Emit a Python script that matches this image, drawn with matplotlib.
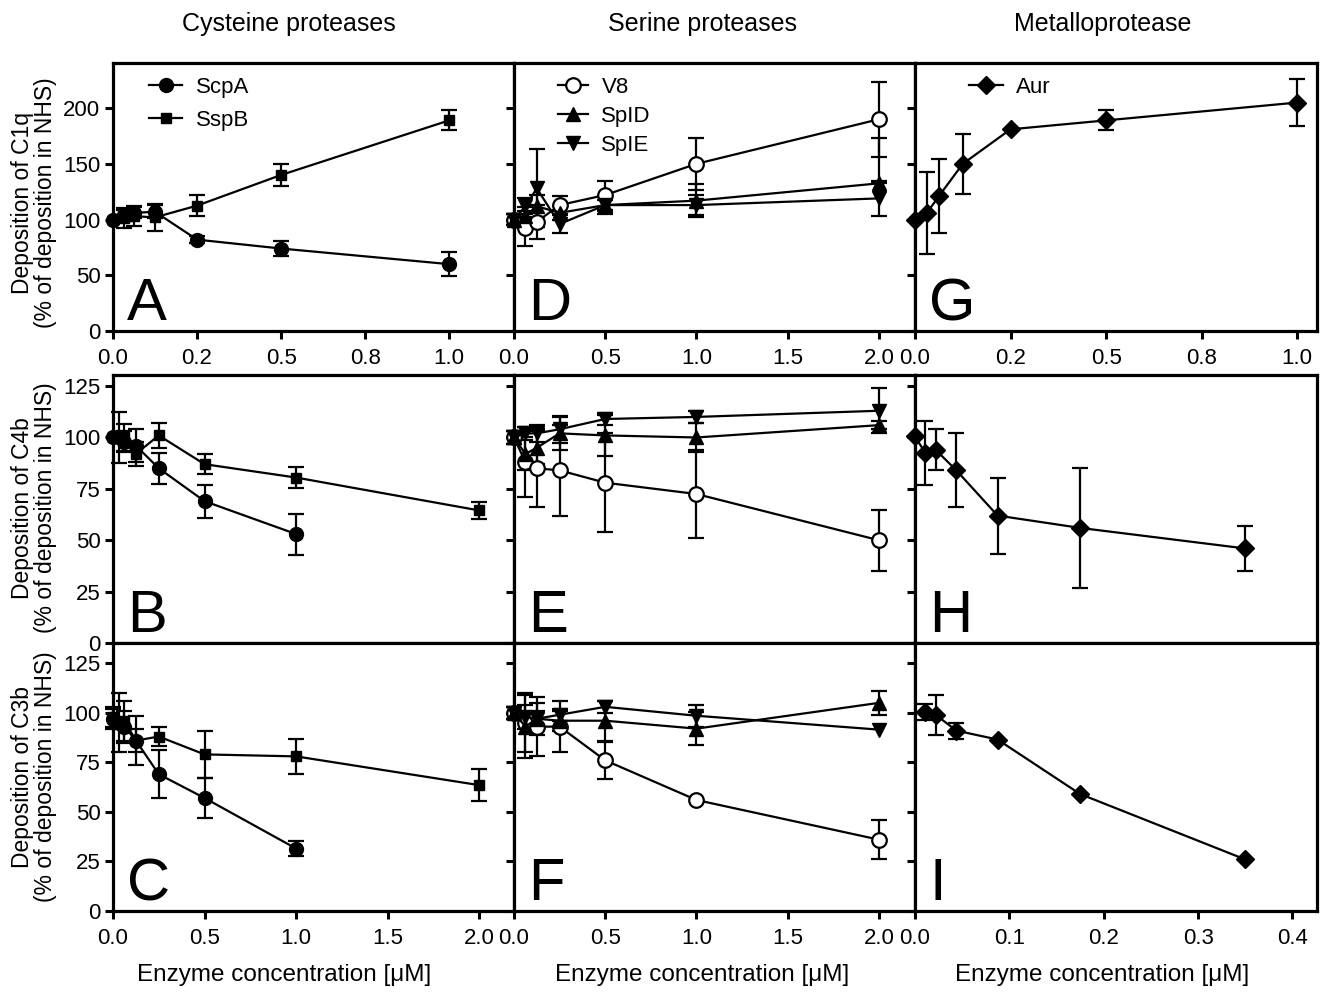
import numpy as np
import matplotlib
matplotlib.use("Agg")
import matplotlib.pyplot as plt

plt.rcParams['font.family'] = ['Liberation Sans', 'DejaVu Sans']

nan = np.nan

# ---------------- data ----------------
# Column titles / labels
col_titles = ["Cysteine proteases", "Serine proteases", "Metalloprotease"]
row_labels = ["Deposition of C1q\n(% of deposition in NHS)",
              "Deposition of C4b\n(% of deposition in NHS)",
              "Deposition of C3b\n(% of deposition in NHS)"]
xlabel = "Enzyme concentration [\u03bcM]"
panel_letters = [["A", "D", "G"], ["B", "E", "H"], ["C", "F", "I"]]

# Cysteine proteases
cys_x_A = [0, 0.03125, 0.0625, 0.125, 0.25, 0.5, 1.0]
A_scpa = [100, 104, 106, 107, 82, 74, 60]
A_scpa_err = [nan, 5, 5, 6, 3, 6.5, 10.5]
A_sspb = [100, 101, 103, 102, 112.5, 140, 189]
A_sspb_err = [nan, 9, 9, 12, 9.5, 10, 9]

scpa_x_BC = [0, 0.03125, 0.0625, 0.125, 0.25, 0.5, 1.0]
sspb_x_BC = [0, 0.0625, 0.125, 0.25, 0.5, 1.0, 2.0]
B_scpa = [100, 100, 98, 96, 85, 69, 53]
B_scpa_err = [nan, 12.5, 5, 8, 7.5, 8, 10]
B_sspb = [100, 100, 92, 101, 87, 80.5, 64.5]
B_sspb_err = [nan, 6.6, 6, 6, 5, 5, 4]
C_scpa = [97, 95, 93, 86, 69, 57, 31.5]
C_scpa_err = [5, 15, 8, 12.5, 12, 10, 4]
C_sspb = [98, 96, 86, 88, 79, 78, 63.5]
C_sspb_err = [5, 10, 6, 5, 12, 9, 8]

# Serine proteases
ser_x = [0, 0.0625, 0.125, 0.25, 0.5, 1.0, 2.0]
D_v8 = [100, 92, 98, 113, 122, 150, 190]
D_v8_err = [5, 16, 15, 8, 13, 23.5, 33.5]
D_spld = [100, 103, 112, 106, 113, 117, 132.5]
D_spld_err_lo = [5, 8, 10, 6, 5, 15, 0]
D_spld_err_hi = [5, 8, 10, 6, 5, 15, 41]
D_sple = [100, 112, 128, 96, 113, 113, 119]
D_sple_err = [5, 7, 35, 8, 8, 9, 16]

E_v8 = [100, 88, 85, 84, 78, 72.5, 50]
E_v8_err = [3, 17, 19, 22, 24, 21.5, 14.8]
E_spld = [100, 92, 95, 102, 101, 100, 106]
E_spld_err = [3, 8, 8, 8, 10, 7, 2]
E_sple = [100, 102, 102, 104, 109, 110, 113]
E_sple_err = [3, 3, 4, 6.5, 3, 3, 11]

F_v8 = [100, 95, 93, 93, 76, 56, 36]
F_v8_err = [3, 15, 15, 13, 9.5, nan, 10]
F_spld = [100, 93, 97, 96, 96, 92, 105]
F_spld_err = [3, 16, 8, 5, 10, 8.4, 6]
F_sple = [100, 98, 97, 99, 103, 98.5, 91.5]
F_sple_err = [3, 6, 4, 3, 3, 5.5, nan]

# Metalloprotease (Aur)
aur_x_G = [0, 0.03125, 0.0625, 0.125, 0.25, 0.5, 1.0]
G_aur = [100, 106, 121, 150, 181, 189, 205]
G_aur_err = [nan, 37, 33, 27, nan, 9, 21]
aur_x_H = [0, 0.0109, 0.0219, 0.0438, 0.0875, 0.175, 0.35]
H_aur = [100.5, 92.5, 94, 84, 62, 56, 46]
H_aur_err = [nan, 15.5, 10, 18, 18.5, 29, 11]
aur_x_I = [0.0109, 0.0219, 0.0438, 0.0875, 0.175, 0.35]
I_aur = [100.5, 99, 91, 86.5, 59, 26]
I_aur_err = [4, 10, 4, nan, nan, nan]

# axis setup
row_ylims = [240.5, 130.4, 135.2]
row_yticks = [[0, 50, 100, 150, 200], [0, 25, 50, 75, 100, 125], [0, 25, 50, 75, 100, 125]]
top_xlims = [1.193, 2.198, 1.052]
top_xticks = [[0, 0.25, 0.5, 0.75, 1.0], [0, 0.5, 1.0, 1.5, 2.0], [0, 0.25, 0.5, 0.75, 1.0]]
top_xticklabels = [["0.0", "0.2", "0.5", "0.8", "1.0"], ["0.0", "0.5", "1.0", "1.5", "2.0"],
                   ["0.0", "0.2", "0.5", "0.8", "1.0"]]
bot_xlims = [2.19, 2.198, 0.426]
bot_xticks = [[0, 0.5, 1.0, 1.5, 2.0], [0, 0.5, 1.0, 1.5, 2.0], [0, 0.1, 0.2, 0.3, 0.4]]
bot_xticklabels = [["0.0", "0.5", "1.0", "1.5", "2.0"], ["0.0", "0.5", "1.0", "1.5", "2.0"],
                   ["0.0", "0.1", "0.2", "0.3", "0.4"]]

# ---------------- figure ----------------
W, H = 1325, 996
fig = plt.figure(figsize=(W / 100, H / 100), dpi=100)

col_px = [(113, 514), (514, 915), (915, 1317)]
row_px = [(63, 331), (375, 643), (643, 911)]

LW = 1.6
CAP = 6
styles = {
    'ScpA': dict(marker='o', ms=10, mfc='black', mec='black'),
    'SspB': dict(marker='s', ms=7.5, mfc='black', mec='black'),
    'V8': dict(marker='o', ms=10.5, mfc='white', mec='black', mew=1.6),
    'SpID': dict(marker='^', ms=10.5, mfc='black', mec='black'),
    'SpIE': dict(marker='v', ms=10.5, mfc='black', mec='black'),
    'Aur': dict(marker='D', ms=9, mfc='black', mec='black'),
}

axes = [[None] * 3 for _ in range(3)]
for r in range(3):
    for c in range(3):
        x0, x1 = col_px[c]
        y0, y1 = row_px[r]
        ax = fig.add_axes([x0 / W, 1 - y1 / H, (x1 - x0) / W, (y1 - y0) / H])
        axes[r][c] = ax
        ax.set_ylim(0, row_ylims[r])
        ax.set_yticks(row_yticks[r])
        if c == 0:
            ax.set_yticklabels([str(t) for t in row_yticks[r]], fontsize=16)
        else:
            ax.set_yticklabels([])
        if r == 0:
            ax.set_xlim(0, top_xlims[c])
            ax.set_xticks(top_xticks[c])
            ax.set_xticklabels(top_xticklabels[c], fontsize=16)
        elif r == 2:
            ax.set_xlim(0, bot_xlims[c])
            ax.set_xticks(bot_xticks[c])
            ax.set_xticklabels(bot_xticklabels[c], fontsize=16)
        else:
            ax.set_xlim(0, bot_xlims[c])
            ax.set_xticks([])
        for s in ax.spines.values():
            s.set_linewidth(2.3)
        ax.tick_params(axis='y', direction='out', length=6, width=2.2, pad=3)
        ax.tick_params(axis='x', direction='out', length=6, width=2.2, pad=6)
        ax.text(0.035, 0.04, panel_letters[r][c], transform=ax.transAxes,
                fontsize=43, ha='left', va='baseline')


def plot_series(ax, x, y, err, name):
    st = styles[name]
    cont = ax.errorbar(x, y, yerr=err, color='black', lw=LW, elinewidth=LW,
                       capsize=CAP, capthick=LW, label=name, clip_on=False, **st)
    return cont


def add_legend(ax, conts, labels, xa, ya, spacing, hl):
    ax.legend([c[0] for c in conts], labels, loc='upper left', bbox_to_anchor=(xa, ya),
              frameon=False, fontsize=16, borderpad=0, borderaxespad=0,
              handlelength=hl, handletextpad=0.6, labelspacing=spacing)


# Cysteine column
ax = axes[0][0]
c1 = plot_series(ax, cys_x_A, A_scpa, A_scpa_err, 'ScpA')
c2 = plot_series(ax, cys_x_A, A_sspb, A_sspb_err, 'SspB')
add_legend(ax, [c1, c2], ['ScpA', 'SspB'], 0.09, 0.948, 0.55, 1.5)
ax = axes[1][0]
plot_series(ax, scpa_x_BC, B_scpa, B_scpa_err, 'ScpA')
plot_series(ax, sspb_x_BC, B_sspb, B_sspb_err, 'SspB')
ax = axes[2][0]
plot_series(ax, scpa_x_BC, C_scpa, C_scpa_err, 'ScpA')
plot_series(ax, sspb_x_BC, C_sspb, C_sspb_err, 'SspB')

# Serine column
ax = axes[0][1]
c1 = plot_series(ax, ser_x, D_v8, D_v8_err, 'V8')
c2 = plot_series(ax, ser_x, D_spld, [D_spld_err_lo, D_spld_err_hi], 'SpID')
c3 = plot_series(ax, ser_x, D_sple, D_sple_err, 'SpIE')
add_legend(ax, [c1, c2, c3], ['V8', 'SpID', 'SpIE'], 0.11, 0.948, 0.36, 1.35)
ax = axes[1][1]
plot_series(ax, ser_x, E_v8, E_v8_err, 'V8')
plot_series(ax, ser_x, E_spld, E_spld_err, 'SpID')
plot_series(ax, ser_x, E_sple, E_sple_err, 'SpIE')
ax = axes[2][1]
plot_series(ax, ser_x, F_v8, F_v8_err, 'V8')
plot_series(ax, ser_x, F_spld, F_spld_err, 'SpID')
plot_series(ax, ser_x, F_sple, F_sple_err, 'SpIE')

# Metalloprotease column
ax = axes[0][2]
c1 = plot_series(ax, aur_x_G, G_aur, G_aur_err, 'Aur')
add_legend(ax, [c1], ['Aur'], 0.135, 0.948, 0.4, 1.5)
ax = axes[1][2]
plot_series(ax, aur_x_H, H_aur, H_aur_err, 'Aur')
ax = axes[2][2]
plot_series(ax, aur_x_I, I_aur, I_aur_err, 'Aur')

# Titles, labels
title_x = [289, 703, 1103]
for c in range(3):
    fig.text(title_x[c] / W, 1 - 24 / H, col_titles[c], fontsize=18, ha='center', va='center')
xl_x = [284, 702, 1102]
for c in range(3):
    fig.text(xl_x[c] / W, 1 - 975 / H, xlabel, fontsize=17.5, ha='center', va='center')
row_cy = [203, 508, 777]
for r in range(3):
    fig.text(34 / W, 1 - row_cy[r] / H, row_labels[r], fontsize=16.5, rotation=90,
             ha='center', va='center', multialignment='center', linespacing=1.05)

fig.savefig("out.png", dpi=100)
